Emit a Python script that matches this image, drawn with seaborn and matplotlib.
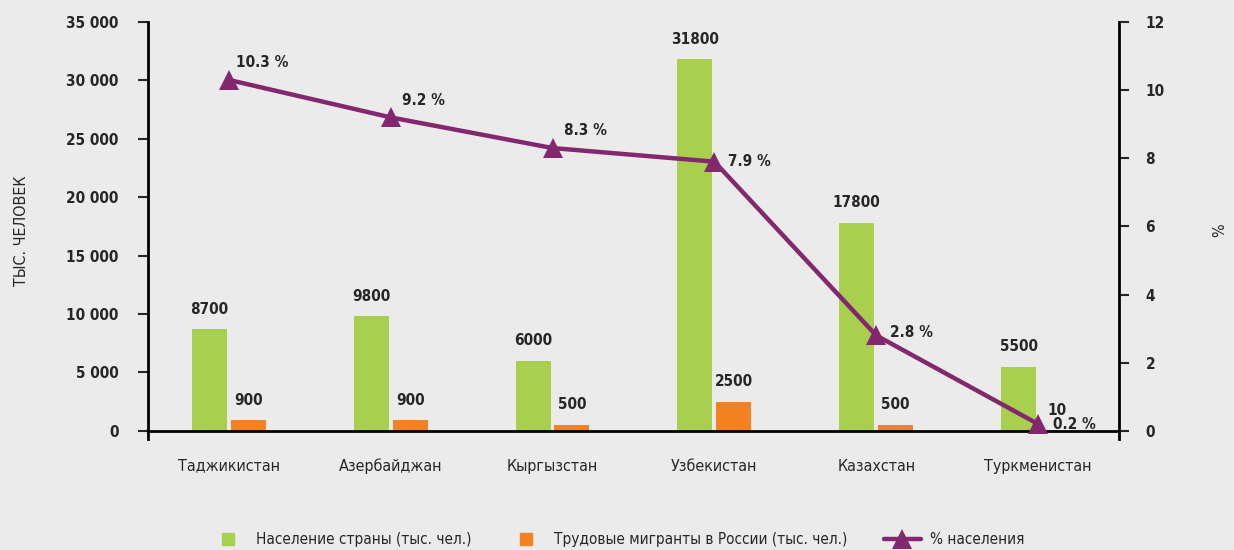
import matplotlib
matplotlib.use("Agg")
import matplotlib.pyplot as plt
from matplotlib.lines import Line2D
import numpy as np
import pandas as pd
import seaborn as sns

countries = ["Таджикистан", "Азербайджан", "Кыргызстан", "Узбекистан", "Казахстан", "Туркменистан"]
population = [8700, 9800, 6000, 31800, 17800, 5500]
migrants = [900, 900, 500, 2500, 500, 10]
share_pct = [10.3, 9.2, 8.3, 7.9, 2.8, 0.2]

pop_name = "Население страны (тыс. чел.)"
mig_name = "Трудовые мигранты в России (тыс. чел.)"
pct_name = "% населения"

GREEN = "#A8CF4E"
ORANGE = "#F58220"
PURPLE = "#83286F"
BG = "#EBEBEB"

sns.set_style("white")
plt.rcParams["font.family"] = ["DejaVu Sans"]
plt.rcParams["font.stretch"] = "condensed"

df = pd.DataFrame({
    "country": countries * 2,
    "value": population + migrants,
    "series": [pop_name] * len(countries) + [mig_name] * len(countries),
})

fig = plt.figure(figsize=(12.34, 5.5), dpi=100, facecolor=BG)
ax = fig.add_axes([0.1199, 0.2018, 0.7869, 0.7582])
ax.set_facecolor(BG)

sns.barplot(data=df, x="country", y="value", hue="series", order=countries,
            palette=[GREEN, ORANGE], width=0.48, gap=0.1, saturation=1,
            linewidth=0, legend=False, ax=ax)

for cont in ax.containers:
    ax.bar_label(cont, labels=[f"{int(v)}" for v in cont.datavalues],
                 padding=9, fontsize=11, fontweight="bold")

ax.set_ylim(-700, 35000)
ax.set_xlim(-0.5, len(countries) - 0.5)
ax.set_yticks(range(0, 35001, 5000))
ax.set_yticklabels([f"{v:,}".replace(",", " ") for v in range(0, 35001, 5000)])
ax.set_xlabel("")
ax.set_ylabel("ТЫС. ЧЕЛОВЕК", fontsize=11.5, labelpad=27)

for s in ["top", "right"]:
    ax.spines[s].set_visible(False)
ax.spines["bottom"].set_position(("data", 0))
for s in ["left", "bottom"]:
    ax.spines[s].set_linewidth(2)
    ax.spines[s].set_color("black")

ax.tick_params(axis="y", length=7, width=1.5, labelsize=11, pad=14)
ax.tick_params(axis="x", length=0, labelsize=11.5, pad=20)
for t in ax.get_yticklabels():
    t.set_fontweight("bold")

ax2 = ax.twinx()
sns.lineplot(x=np.arange(len(countries)), y=share_pct, color=PURPLE, linewidth=3.2,
             marker="^", markersize=15, markeredgewidth=0, ax=ax2)
ax2.set_ylim(-0.24, 12)
ax2.set_yticks(range(0, 13, 2))
ax2.set_ylabel("%", fontsize=11.5, labelpad=34)
for s in ["top", "left", "bottom"]:
    ax2.spines[s].set_visible(False)
ax2.spines["right"].set_linewidth(2)
ax2.spines["right"].set_color("black")
ax2.tick_params(axis="y", length=7, width=1.5, labelsize=11, pad=12)
for t in ax2.get_yticklabels():
    t.set_fontweight("bold")

label_offsets = [(5, 7), (8, 7), (8, 7), (10, -5), (10, -3), (11, -6)]
for i, v in enumerate(share_pct):
    ax2.annotate(f"{v} %", (i, v), xytext=label_offsets[i], textcoords="offset points",
                 ha="left", va="bottom", fontsize=11, fontweight="bold")

handles = [
    Line2D([], [], linestyle="none", marker="s", markersize=8, color=GREEN),
    Line2D([], [], linestyle="none", marker="s", markersize=8, color=ORANGE),
    Line2D([], [], color=PURPLE, linewidth=3.2, marker="^", markersize=14,
           markeredgewidth=0),
]
fig.legend(handles, [pop_name, mig_name, pct_name], loc="lower center",
           bbox_to_anchor=(0.5, -0.02), ncol=3, frameon=False, fontsize=11,
           columnspacing=2.4, handlelength=2.4, handletextpad=0.6)

fig.savefig("out.png", dpi=100, facecolor=BG)
